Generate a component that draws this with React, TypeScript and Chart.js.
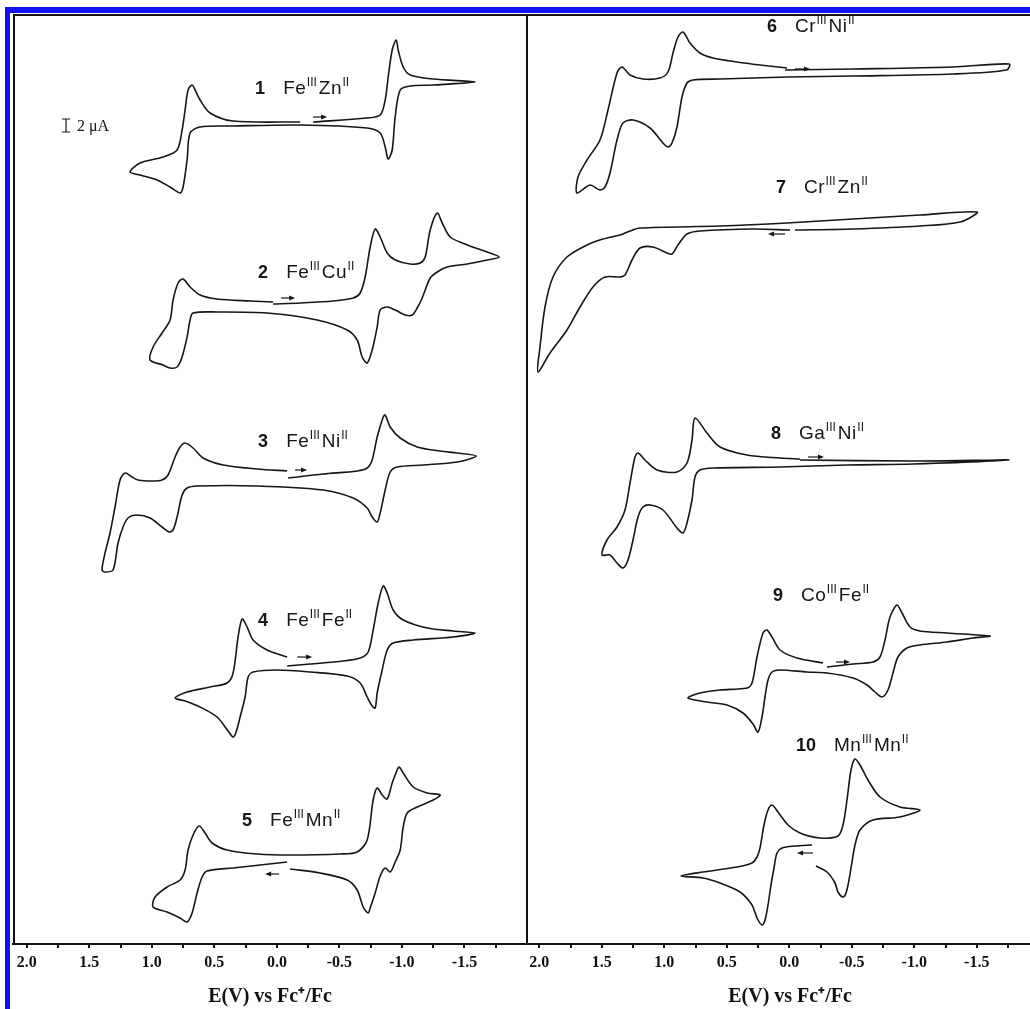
import React, { useEffect, useRef } from 'react';
import { Chart, registerables } from 'chart.js';

Chart.register(...registerables);

// ---------- x-axis ticks ----------
const tickValues = [2.0, 1.75, 1.5, 1.25, 1.0, 0.75, 0.5, 0.25, 0.0, -0.25, -0.5, -0.75, -1.0, -1.25, -1.5, -1.75];
const labeledTicks = [2.0, 1.5, 1.0, 0.5, 0.0, -0.5, -1.0, -1.5];
const axisTitle = 'E(V) vs Fc\u207A/Fc';

// ---------- left panel curves (E in V, current in plot units) ----------
const cv1E = [-0.290,-0.722,-0.826,-0.866,-0.890,-0.922,-0.954,-0.970,-1.010,-1.066,-1.250,-1.586,-1.250,-1.066,-0.986,-0.946,-0.922,-0.890,-0.866,-0.826,-0.722,-0.186,0.350,0.614,0.694,0.718,0.750,0.774,0.854,0.958,1.094,1.174,1.094,0.910,0.798,0.758,0.734,0.710,0.678,0.654,0.614,0.534,0.350,-0.186];
const cv1I = [2,6,9,24,47,74,84,74,57,49,45,42,39,38,34,7,-26,-35,-23,-9,-4,-1,-2,-3,-9,-36,-63,-69,-63,-56,-51,-48,-39,-33,-26,-6,14,34,39,34,24,11,3,2];

const cv2E = [0.030,-0.186,-0.450,-0.610,-0.666,-0.706,-0.746,-0.786,-0.826,-0.882,-0.946,-1.066,-1.146,-1.186,-1.226,-1.282,-1.322,-1.386,-1.522,-1.682,-1.778,-1.682,-1.522,-1.362,-1.282,-1.226,-1.162,-1.122,-1.082,-1.026,-0.946,-0.882,-0.826,-0.802,-0.762,-0.722,-0.682,-0.642,-0.562,-0.322,0.078,0.478,0.670,0.694,0.718,0.758,0.798,0.854,0.910,1.014,0.990,0.918,0.854,0.830,0.790,0.750,0.694,0.614,0.478,0.214,0.030];
const cv2I = [1,2,4,7,12,28,58,76,68,52,45,41,42,48,75,92,82,68,60,53,48,45,41,38,33,27,7,-3,-10,-10,-5,-2,-5,-22,-45,-58,-52,-35,-25,-15,-8,-7,-8,-15,-32,-52,-62,-63,-60,-55,-42,-28,-15,5,22,26,18,10,6,4,3];

const cv3E = [-0.090,-0.370,-0.642,-0.722,-0.762,-0.802,-0.850,-0.866,-0.906,-0.986,-1.122,-1.306,-1.442,-1.594,-1.442,-1.170,-0.962,-0.906,-0.866,-0.826,-0.802,-0.762,-0.722,-0.610,-0.370,0.158,0.638,0.718,0.758,0.798,0.830,0.862,0.918,1.014,1.118,1.190,1.230,1.270,1.310,1.374,1.398,1.374,1.334,1.294,1.254,1.214,1.158,1.110,0.998,0.918,0.870,0.814,0.774,0.734,0.670,0.590,0.430,0.158,-0.082];
const cv3I = [-3,1,4,7,15,38,58,60,48,37,28,24,22,19,13,10,8,3,-15,-38,-47,-42,-33,-23,-15,-11,-11,-13,-20,-42,-55,-57,-52,-43,-40,-43,-52,-68,-95,-97,-95,-78,-58,-32,-5,2,-2,-5,-6,-5,0,18,28,32,27,17,10,6,4];

const cv4E = [-0.082,-0.266,-0.530,-0.666,-0.730,-0.770,-0.810,-0.850,-0.882,-0.930,-1.010,-1.202,-1.410,-1.586,-1.410,-1.090,-0.930,-0.882,-0.842,-0.802,-0.786,-0.762,-0.722,-0.666,-0.562,-0.266,-0.002,0.190,0.230,0.254,0.294,0.326,0.350,0.390,0.478,0.614,0.734,0.814,0.718,0.534,0.398,0.350,0.310,0.278,0.238,0.190,0.078,-0.082];
const cv4I = [-1,1,4,7,13,35,62,79,72,55,45,37,34,32,28,25,22,15,-5,-28,-43,-41,-32,-18,-11,-7,-5,-7,-12,-32,-52,-67,-72,-66,-52,-42,-36,-33,-27,-22,-18,-8,28,46,38,25,15,8];

const cv5E = [-0.082,0.350,0.558,0.598,0.638,0.678,0.718,0.774,0.878,0.990,0.974,0.878,0.774,0.734,0.710,0.670,0.622,0.574,0.518,0.398,0.158,-0.106,-0.506,-0.642,-0.722,-0.770,-0.802,-0.842,-0.882,-0.922,-0.962,-0.978,-1.010,-1.090,-1.202,-1.306,-1.250,-1.122,-1.042,-1.010,-0.986,-0.946,-0.906,-0.866,-0.826,-0.786,-0.746,-0.730,-0.690,-0.642,-0.562,-0.346,-0.106];
const cv5I = [-2,-8,-11,-17,-33,-53,-62,-58,-52,-47,-37,-27,-20,-10,10,25,34,27,17,10,6,5,6,8,20,60,72,65,61,77,90,93,87,73,67,65,60,53,47,33,10,-2,-12,-8,-16,-33,-48,-53,-47,-30,-20,-13,-9];

// ---------- right panel curves ----------
const cv6E = [0.034,-0.510,-1.310,-1.760,-1.740,-1.310,-0.510,0.018,0.554,0.770,0.818,0.858,0.898,0.938,0.970,1.010,1.114,1.250,1.330,1.378,1.434,1.474,1.514,1.594,1.698,1.690,1.618,1.514,1.450,1.378,1.338,1.274,1.170,1.034,0.970,0.930,0.890,0.850,0.794,0.714,0.610,0.418,0.234,0.018];
const cv6I = [2,3,5,8,2,-2,-4,-5,-7,-8,-11,-25,-55,-71,-75,-71,-56,-48,-51,-68,-101,-115,-118,-113,-121,-105,-88,-68,-38,-1,5,-3,-7,-6,0,19,35,40,29,19,14,10,7,4];

const cv7E = [-0.006,0.290,0.714,0.818,0.890,0.938,0.978,1.090,1.194,1.258,1.314,1.354,1.474,1.570,1.674,1.778,1.914,2.010,1.994,1.954,1.890,1.778,1.618,1.490,1.354,1.274,1.194,0.554,0.018,-0.510,-1.046,-1.502,-1.366,-1.046,-0.510,-0.046];
const cv7I = [-1,0,-2,-5,-16,-25,-24,-18,-19,-31,-46,-48,-48,-58,-78,-101,-124,-143,-118,-78,-48,-28,-16,-10,-6,-2,1,3,6,10,14,17,7,3,0,-1];

const cv8E = [-0.086,-0.990,-1.760,-0.990,-0.462,0.074,0.610,0.714,0.754,0.778,0.818,0.850,0.898,1.010,1.114,1.170,1.210,1.250,1.290,1.330,1.378,1.434,1.498,1.458,1.378,1.314,1.274,1.234,1.210,1.154,1.058,0.898,0.818,0.778,0.754,0.658,0.554,0.338,0.074,-0.086];
const cv8I = [0,-1,0,-4,-5,-7,-8,-10,-17,-40,-63,-73,-68,-50,-45,-47,-57,-80,-100,-108,-103,-95,-95,-80,-67,-50,-23,3,7,0,-10,-12,-3,20,42,27,13,5,2,1];

const cv9E = [-0.302,-0.510,-0.670,-0.726,-0.766,-0.806,-0.862,-0.902,-0.966,-1.046,-1.262,-1.606,-1.470,-1.262,-1.046,-0.942,-0.870,-0.830,-0.790,-0.742,-0.686,-0.622,-0.510,-0.302,-0.142,0.074,0.138,0.170,0.194,0.218,0.250,0.290,0.370,0.498,0.658,0.810,0.714,0.554,0.338,0.298,0.258,0.210,0.178,0.138,0.074,-0.062,-0.270];
const cv9I = [-2,1,3,8,25,48,60,52,38,34,32,29,27,23,20,17,8,-8,-25,-32,-27,-20,-13,-8,-7,-5,-7,-15,-32,-52,-67,-59,-48,-40,-37,-33,-28,-25,-23,-18,8,32,35,28,15,7,2];

const cv10E = [-0.182,-0.046,0.058,0.098,0.122,0.146,0.170,0.194,0.218,0.258,0.298,0.394,0.554,0.690,0.866,0.690,0.418,0.298,0.258,0.234,0.202,0.170,0.138,0.090,0.010,-0.086,-0.246,-0.390,-0.430,-0.462,-0.494,-0.526,-0.566,-0.630,-0.726,-0.886,-1.046,-0.886,-0.670,-0.566,-0.526,-0.502,-0.478,-0.454,-0.430,-0.390,-0.366,-0.302,-0.214];
const cv10I = [0,-1,-3,-8,-23,-40,-60,-75,-80,-73,-60,-47,-38,-33,-31,-27,-22,-18,-12,-3,20,35,40,33,20,12,7,9,20,45,75,86,80,65,48,38,35,28,25,15,0,-17,-35,-48,-52,-47,-38,-27,-21];

// vertical stacking offsets of each voltammogram
const leftOffsets = [820, 639, 469, 279, 84];
const rightOffsets = [872, 715, 484, 279, 99];

// ---------- annotation text ----------
const leftNums = ['1', '2', '3', '4', '5'];
const leftNames = [['Fe', 'III', 'Zn', 'II'], ['Fe', 'III', 'Cu', 'II'], ['Fe', 'III', 'Ni', 'II'], ['Fe', 'III', 'Fe', 'II'], ['Fe', 'III', 'Mn', 'II']];
const rightNums = ['6', '7', '8', '9', '10'];
const rightNames = [['Cr', 'III', 'Ni', 'II'], ['Cr', 'III', 'Zn', 'II'], ['Ga', 'III', 'Ni', 'II'], ['Co', 'III', 'Fe', 'II'], ['Mn', 'III', 'Mn', 'II']];

// label anchors (E, height)
const leftLabelAt = [[0.174, 856], [0.150, 672], [0.150, 503], [0.150, 324], [0.278, 124]];
const rightLabelAt = [[0.178, 918], [0.106, 757], [0.146, 511], [0.130, 349], [-0.054, 199]];
// scan-direction arrows (E tail, E head, height)
const leftArrows = [[-0.290, -0.402, 827], [-0.034, -0.146, 646], [-0.146, -0.242, 474], [-0.162, -0.282, 287], [-0.018, 0.094, 70]];
const rightArrows = [[-0.046, -0.166, 875], [0.034, 0.170, 710], [-0.150, -0.278, 487], [-0.374, -0.486, 282], [-0.190, -0.062, 91]];
const scaleBarLabel = '2 \u03BCA';

const INK = '#161616';
const SANS = '"Liberation Sans", Arial, sans-serif';
const SERIF = '"Liberation Serif", "Times New Roman", serif';

function makeDatasets(Es: number[][], Is: number[][], offs: number[]) {
  return Es.map((E, k) => ({
    label: 'cv' + k,
    data: E.map((e, i) => ({ x: e, y: offs[k] + Is[k][i] })),
    borderColor: INK,
    borderWidth: 1.6,
    pointRadius: 0,
    tension: 0.3,
    fill: false,
  }));
}

function drawLabel(ctx: any, x: number, y: number, num: string, parts: string[]) {
  const base = y + 6;
  ctx.fillStyle = INK;
  ctx.textAlign = 'left';
  ctx.textBaseline = 'alphabetic';
  ctx.letterSpacing = '0px';
  ctx.font = `bold 18px ${SANS}`;
  ctx.fillText(num, x, base);
  let cx = x + ctx.measureText(num).width + 18;
  parts.forEach((p, i) => {
    const sup = i % 2 === 1;
    ctx.letterSpacing = sup ? '0px' : '0.5px';
    ctx.font = sup ? `12px ${SANS}` : `19px ${SANS}`;
    ctx.fillText(p, cx, sup ? base - 8 : base);
    cx += ctx.measureText(p).width + (sup ? 2 : 0.5);
  });
  ctx.letterSpacing = '0px';
}

function drawArrow(ctx: CanvasRenderingContext2D, x1: number, x2: number, y: number) {
  const dir = x2 > x1 ? 1 : -1;
  ctx.strokeStyle = INK;
  ctx.fillStyle = INK;
  ctx.lineWidth = 1.2;
  ctx.beginPath();
  ctx.moveTo(x1, y);
  ctx.lineTo(x2 - dir * 4, y);
  ctx.stroke();
  ctx.beginPath();
  ctx.moveTo(x2, y);
  ctx.lineTo(x2 - dir * 6, y - 2.5);
  ctx.lineTo(x2 - dir * 6, y + 2.5);
  ctx.closePath();
  ctx.fill();
}

function makeDecor(id: string, nums: string[], names: string[][], at: number[][], arrows: number[][], leftInset: number, withScaleBar: boolean) {
  return {
    id,
    afterDraw(chart: any) {
      const { ctx, chartArea: a, scales } = chart;
      const xs = scales.x;
      const ys = scales.y;
      ctx.save();
      // frame lines
      ctx.strokeStyle = '#111';
      ctx.lineWidth = 2;
      ctx.beginPath();
      ctx.moveTo(a.left + leftInset, a.bottom);
      ctx.lineTo(a.left + leftInset, a.top);
      ctx.moveTo(a.left, a.top);
      ctx.lineTo(a.right, a.top);
      ctx.stroke();
      // labels
      nums.forEach((n, i) => {
        drawLabel(ctx, xs.getPixelForValue(at[i][0]), ys.getPixelForValue(at[i][1]), n, names[i]);
      });
      arrows.forEach((ar) => {
        drawArrow(ctx, xs.getPixelForValue(ar[0]), xs.getPixelForValue(ar[1]), ys.getPixelForValue(ar[2]));
      });
      if (withScaleBar) {
        const bx = xs.getPixelForValue(1.686);
        const t = ys.getPixelForValue(825);
        const b = ys.getPixelForValue(812);
        ctx.strokeStyle = INK;
        ctx.lineWidth = 1.2;
        ctx.beginPath();
        ctx.moveTo(bx, t); ctx.lineTo(bx, b);
        ctx.moveTo(bx - 4, t); ctx.lineTo(bx + 4, t);
        ctx.moveTo(bx - 4, b); ctx.lineTo(bx + 4, b);
        ctx.stroke();
        ctx.fillStyle = INK;
        ctx.font = `16px ${SERIF}`;
        ctx.textBaseline = 'middle';
        ctx.textAlign = 'left';
        ctx.fillText(scaleBarLabel, bx + 11, (t + b) / 2 + 1);
      }
      ctx.restore();
    },
  };
}

function makeConfig(datasets: any[], xMin: number, xMax: number, padLeft: number, decor: any): any {
  return {
    type: 'line',
    data: { datasets },
    options: {
      responsive: false,
      animation: false,
      devicePixelRatio: 1,
      events: [],
      layout: { padding: { left: padLeft, top: 15, right: 0, bottom: 0 } },
      plugins: { legend: { display: false }, tooltip: { enabled: false }, title: { display: false } },
      scales: {
        x: {
          type: 'linear',
          reverse: true,
          min: xMin,
          max: xMax,
          afterBuildTicks: (s: any) => {
            s.ticks = tickValues.map((v) => ({ value: v }));
          },
          ticks: {
            autoSkip: false,
            maxRotation: 0,
            minRotation: 0,
            padding: 3,
            color: '#111',
            font: { family: SERIF, size: 16, weight: 'bold', lineHeight: 1.5 },
            callback: (v: number) => (labeledTicks.some((t) => Math.abs(t - v) < 1e-6) ? Number(v).toFixed(1) : ''),
          },
          grid: { display: true, drawOnChartArea: false, drawTicks: true, tickLength: 4, color: '#111', lineWidth: 2 },
          border: { display: true, color: '#111', width: 2 },
          title: {
            display: true,
            text: axisTitle,
            color: '#111',
            font: { family: SERIF, size: 20, weight: 'bold', lineHeight: 1.2 },
            padding: { top: 7, bottom: 0 },
          },
        },
        y: { display: false, min: 0, max: 929 },
      },
    },
    plugins: [decor],
  };
}

export default function App() {
  const leftRef = useRef<HTMLCanvasElement>(null);
  const rightRef = useRef<HTMLCanvasElement>(null);

  useEffect(() => {
    const left = new Chart(
      leftRef.current as HTMLCanvasElement,
      makeConfig(
        makeDatasets([cv1E, cv2E, cv3E, cv4E, cv5E], [cv1I, cv2I, cv3I, cv4I, cv5I], leftOffsets),
        -2.0, 2.11, 13,
        makeDecor('decorLeft', leftNums, leftNames, leftLabelAt, leftArrows, 1, true)
      )
    );
    const right = new Chart(
      rightRef.current as HTMLCanvasElement,
      makeConfig(
        makeDatasets([cv6E, cv7E, cv8E, cv9E, cv10E], [cv6I, cv7I, cv8I, cv9I, cv10I], rightOffsets),
        -2.11, 2.098, 13,
        makeDecor('decorRight', rightNums, rightNames, rightLabelAt, rightArrows, 0, false)
      )
    );
    return () => {
      left.destroy();
      right.destroy();
    };
  }, []);

  return (
    <div style={{ position: 'absolute', left: 0, top: 0, width: 1030, height: 1009, overflow: 'hidden', background: '#fff' }}>
      <div style={{ position: 'absolute', left: 5, top: 7, width: 5, height: 1002, background: '#1212ee' }} />
      <div style={{ position: 'absolute', left: 5, top: 7, width: 1025, height: 6, background: '#1212ee' }} />
      <canvas ref={leftRef} width={527} height={1009} style={{ position: 'absolute', left: 0, top: 0, width: 527, height: 1009 }} />
      <canvas ref={rightRef} width={539} height={1009} style={{ position: 'absolute', left: 514, top: 0, width: 539, height: 1009 }} />
    </div>
  );
}
